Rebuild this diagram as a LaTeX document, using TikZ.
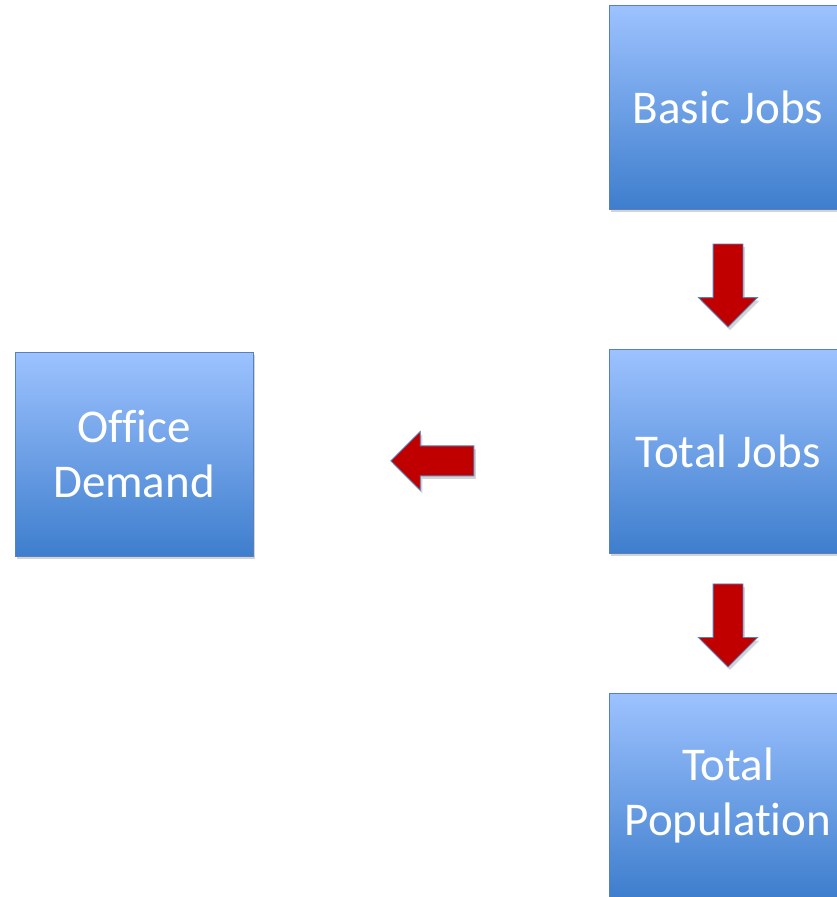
\documentclass[tikz,border=0pt]{standalone}
\usepackage{fontspec}
\setmainfont[Ligatures=NoCommon]{Carlito}
\usetikzlibrary{positioning,calc,shapes.arrows,shadows}

\definecolor{boxtop}{RGB}{157,194,255}
\definecolor{boxbottom}{RGB}{62,126,205}
\definecolor{boxline}{RGB}{86,128,190}
\definecolor{arrowred}{RGB}{192,0,0}

\begin{document}
\begin{tikzpicture}[x=1pt,y=-1pt,
  jobbox/.style={draw=boxline, line width=1pt, top color=boxtop, bottom color=boxbottom,
    minimum width=238pt, minimum height=204pt, inner sep=0pt, text=white, align=center,
    font=\fontsize{47}{55}\selectfont,
    drop shadow={opacity=0.35, shadow xshift=2pt, shadow yshift=-3pt}},
  redarrow/.style={single arrow, draw=boxline, fill=arrowred, line width=0.9pt,
    inner sep=14.5pt, single arrow head extend=14.5pt, minimum height=83pt, anchor=tip,
    drop shadow={opacity=0.35, shadow xshift=2pt, shadow yshift=-3pt}}]
\useasboundingbox (0,0) rectangle (836,897);

\def\xl{134}
\def\xr{728}

\def\ya{107}
\def\yb{451}
\def\yc{795}
\def\yd{454}

\node[jobbox] (bj) at (\xr, \ya) {Basic Jobs};
\node[jobbox] (tj) at (\xr, \yb) {Total Jobs};
\node[jobbox] (tp) at (\xr, \yc) {Total\\Population};
\node[jobbox] (od) at (\xl, \yd) {Office\\Demand};

\node[redarrow, rotate=-90] (a1) at ($(bj.south)!0.85!(tj.north)$) {};
\node[redarrow, rotate=-90] (a2) at ($(tj.south)!0.821!(tp.north)$) {};
\node[redarrow, rotate=180] (a3) at ($(tj.west)!0.615!(od.east) + (0,8)$) {};

\end{tikzpicture}
\end{document}
